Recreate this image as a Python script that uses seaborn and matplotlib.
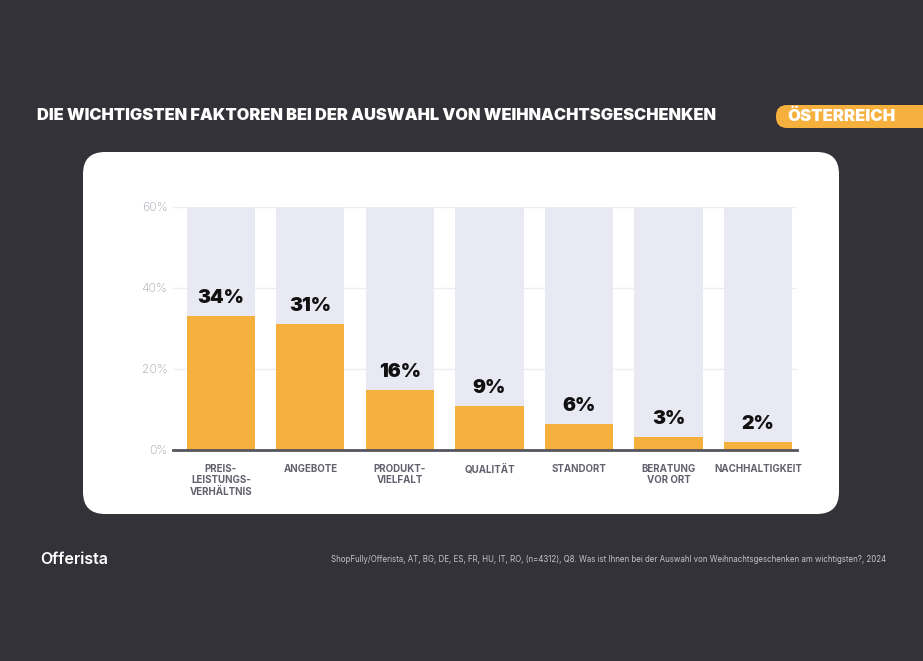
import numpy as np
import pandas as pd
import matplotlib
matplotlib.use("Agg")
import matplotlib.pyplot as plt
from matplotlib.patches import FancyBboxPatch
import seaborn as sns

# data
categories = ['PREIS-\nLEISTUNGS-\nVERHÄLTNIS', 'ANGEBOTE', 'PRODUKT-\nVIELFALT', 'QUALITÄT',
              'STANDORT', 'BERATUNG\nVOR ORT', 'NACHHALTIGKEIT']
values = [33.1, 31.1, 14.9, 10.9, 6.3, 3.2, 1.9]
labels = ['34%', '31%', '16%', '9%', '6%', '3%', '2%']
max_val = [60] * 7
yticks = [0, 20, 40, 60]

bg = '#333238'
orange = '#f5b03e'
lav = '#e8e9f3'

sns.set_theme(style='white')
plt.rcParams['font.family'] = ['Inter', 'DejaVu Sans']

df = pd.DataFrame({'cat': categories, 'val': values, 'full': max_val})

fig = plt.figure(figsize=(9.23, 6.61), dpi=100, facecolor=bg)

# white rounded panel (pixel coords, origin bottom-left)
panel = FancyBboxPatch((83, 661 - 514), 756, 362, boxstyle='round,pad=0,rounding_size=22',
                       transform=None, facecolor='white', edgecolor='none', zorder=-5)
fig.patches.append(panel)
# country badge
badge = FancyBboxPatch((776, 661 - 128), 170, 23, boxstyle='round,pad=0,rounding_size=11',
                       transform=None, facecolor=orange, edgecolor='none', zorder=-5)
fig.patches.append(badge)

ax = fig.add_axes([173 / 923, 1 - 450 / 661, 624 / 923, (450 - 206.7) / 661])
ax.set_facecolor('none')

sns.barplot(data=df, x='cat', y='full', color=lav, width=0.763, ax=ax, zorder=2,
            saturation=1, edgecolor='none')
sns.barplot(data=df, x='cat', y='val', color=orange, width=0.763, ax=ax, zorder=3,
            saturation=1, edgecolor='none')

for i, (v, lab) in enumerate(zip(values, labels)):
    ax.annotate(lab, (i, v), xytext=(0, 13), textcoords='offset points', ha='center',
                va='center', fontsize=14, fontweight='black', color='#111111', zorder=5)

ax.set_xlim(-0.534, 6.436)
ax.set_ylim(0, 60)
ax.set_yticks(yticks)
ax.set_yticklabels([f'{t}%' for t in yticks], fontsize=8.8, color='#a2a2ad', fontweight='light')
ax.yaxis.grid(True, color='#ececf2', linewidth=1, zorder=1)
ax.set_axisbelow(True)
ax.tick_params(axis='y', length=0, pad=4)
ax.tick_params(axis='x', length=0, pad=10)
ax.set_xticks(range(len(categories)))
ax.set_xticklabels(categories, fontsize=7, fontweight='bold', color='#62626f',
                   va='top', linespacing=1.2)
ax.set_xlabel('')
ax.set_ylabel('')
for s in ['top', 'right', 'left']:
    ax.spines[s].set_visible(False)
ax.spines['bottom'].set_color('#55555f')
ax.spines['bottom'].set_linewidth(2)
ax.spines['bottom'].set_zorder(6)

fig.text(37 / 923, 1 - 116 / 661, 'DIE WICHTIGSTEN FAKTOREN BEI DER AUSWAHL VON WEIHNACHTSGESCHENKEN',
         color='white', fontsize=11.8, fontweight='black', va='center', ha='left')
fig.text(841 / 923, 1 - 116 / 661, 'ÖSTERREICH', color='white', fontsize=12,
         fontweight='black', va='center', ha='center')
fig.text(40 / 923, 1 - 560 / 661, 'Offerista', color='white', fontsize=11.5,
         fontweight='semibold', va='center', ha='left')
fig.text(886 / 923, 1 - 560 / 661,
         'ShopFully/Offerista, AT, BG, DE, ES, FR, HU, IT, RO, (n=4312), Q8. Was ist Ihnen bei der '
         'Auswahl von Weihnachtsgeschenken am wichtigsten?, 2024',
         color='#c4c4cc', fontsize=5.7, va='center', ha='right')

fig.savefig('out.png', dpi=100, facecolor=bg)
